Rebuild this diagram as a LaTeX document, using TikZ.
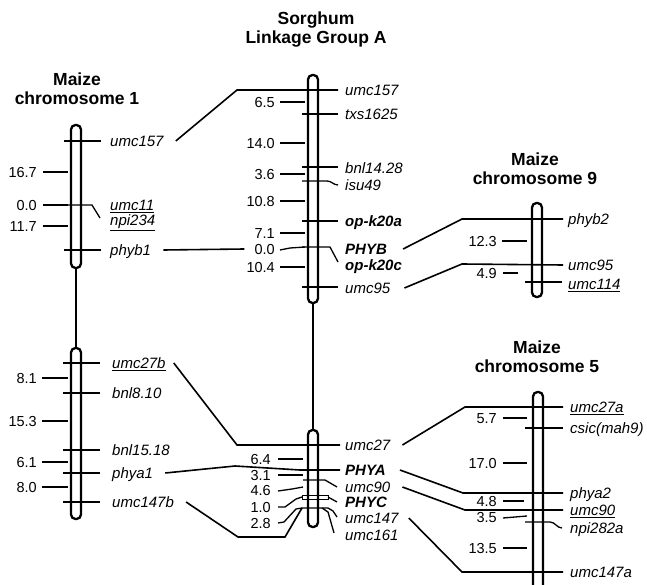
\documentclass[tikz,border=0pt]{standalone}
\usepackage{fontspec}
\setmainfont{Liberation Sans}
\usepackage{tikz}
\usetikzlibrary{positioning, calc}
\tikzset{
    chrom/.style = {draw, line width=2.3pt, rounded corners=4.5pt, fill=white},
    centro/.style = {line width=2.2pt},
    tick/.style = {line width=1.3pt},
    link/.style = {line width=1.6pt},
    title/.style = {font=\bfseries\fontsize{17.5}{19}\selectfont, align=center},
    marker/.style = {font=\itshape\fontsize{15}{17}\selectfont, anchor=west, inner sep=0pt, text height=10.7pt, text depth=0pt},
    bmarker/.style = {marker, font=\bfseries\itshape\fontsize{15}{17}\selectfont},
    dist/.style = {font=\fontsize{14.5}{16}\selectfont, anchor=east, inner sep=0pt, text height=10.4pt, text depth=0pt}
}
\begin{document}
\begin{tikzpicture}[x=1pt, y=-1pt]
\useasboundingbox (0,0) rectangle (647,585);

% ---- Titles ----
\node[title] (t-c1) at (77,89) {Maize\\chromosome 1};
\node[title] (t-sg) at (316,30) {Sorghum\\Linkage Group A};
\node[title] (t-c9) at (535,169) {Maize\\chromosome 9};
\node[title] (t-c5) at (537,357) {Maize\\chromosome 5};

% ---- Bars ----
\draw[centro] (76,266) -- (76,350);
\draw[centro] (313,300) -- (313,432);
\draw[chrom] (71,125) rectangle (81,268);
\draw[chrom] (71,348) rectangle (81,519);
\draw[chrom] (308,75) rectangle (318,303);
\draw[chrom] (308,430) rectangle (318,527);
\draw[chrom] (532,203) rectangle (542,297);
\draw[chrom] (533,600) -- (533,392) -- (543,392) -- (543,600);

% ---- Maize chromosome 1 (left) ----
\node[marker] (c1-umc157) at (110,141) {umc157};
\node[marker] (c1-umc11) at (110,205) {\underline{umc11}};
\node[marker] (c1-npi234) at (110,220) {\underline{npi234}};
\node[marker] (c1-phyb1) at (110,250) {phyb1};
\node[marker] (c1-umc27b) at (112,363) {\underline{umc27b}};
\node[marker] (c1-bnl810) at (112,393) {bnl8.10};
\node[marker] (c1-bnl1518) at (112,450) {bnl15.18};
\node[marker] (c1-phya1) at (112,473) {phya1};
\node[marker] (c1-umc147b) at (112,502) {umc147b};
\node[dist] (c1-d1) at (37,172) {16.7};
\node[dist] (c1-d2) at (37,205) {0.0};
\node[dist] (c1-d3) at (37,226) {11.7};
\node[dist] (c1-d4) at (37,378) {8.1};
\node[dist] (c1-d5) at (37,421) {15.3};
\node[dist] (c1-d6) at (37,462) {6.1};
\node[dist] (c1-d7) at (37,487) {8.0};
\draw[tick] (64,141) -- (101,141);
\draw[tick] (64,205) -- (92,205) -- (100,218);
\draw[tick] (64,250) -- (101,250);
\draw[tick] (63,363) -- (100,363);
\draw[tick] (63,393) -- (100,393);
\draw[tick] (63,450) -- (100,450);
\draw[tick] (63,473) -- (100,473);
\draw[tick] (63,502) -- (100,502);
\draw[tick] (43,172) -- (68,172);
\draw[tick] (43,205) -- (68,205);
\draw[tick] (43,226) -- (68,226);
\draw[tick] (42,378) -- (68,378);
\draw[tick] (42,421) -- (68,421);
\draw[tick] (42,462) -- (68,462);
\draw[tick] (42,487) -- (68,487);

% ---- Sorghum linkage group A (centre) ----
\node[marker] (sg-umc157) at (345,90) {umc157};
\node[marker] (sg-txs1625) at (345,114) {txs1625};
\node[marker] (sg-bnl1428) at (345,168) {bnl14.28};
\node[marker] (sg-isu49) at (345,185) {isu49};
\node[bmarker] (sg-opk20a) at (345,221) {op-k20a};
\node[bmarker] (sg-phyb) at (345,249) {PHYB};
\node[bmarker] (sg-opk20c) at (345,265) {op-k20c};
\node[marker] (sg-umc95) at (345,288) {umc95};
\node[marker] (sg-umc27) at (345,445) {umc27};
\node[bmarker] (sg-phya) at (345,470) {PHYA};
\node[marker] (sg-umc90) at (345,487) {umc90};
\node[bmarker] (sg-phyc) at (345,502) {PHYC};
\node[marker] (sg-umc147) at (345,518) {umc147};
\node[marker] (sg-umc161) at (345,535) {umc161};
\node[dist] (sg-d1) at (275,102) {6.5};
\node[dist] (sg-d2) at (275,143) {14.0};
\node[dist] (sg-d3) at (275,174) {3.6};
\node[dist] (sg-d4) at (275,201) {10.8};
\node[dist] (sg-d5) at (275,233) {7.1};
\node[dist] (sg-d6) at (275,249) {0.0};
\node[dist] (sg-d7) at (275,267) {10.4};
\node[dist] (sg-d8) at (271,459) {6.4};
\node[dist] (sg-d9) at (271,475) {3.1};
\node[dist] (sg-d10) at (271,490) {4.6};
\node[dist] (sg-d11) at (271,507) {1.0};
\node[dist] (sg-d12) at (271,523) {2.8};
\draw[tick] (302,114) -- (338,114);
\draw[tick] (302,167) -- (338,167);
\draw[tick] (302,181) -- (327,181) to[out=0, in=180] (338,185);
\draw[tick] (302,221) -- (338,221);
\draw[tick] (302,247) -- (330,247) -- (338,262);
\draw[tick] (302,287) -- (338,287);
\draw[tick] (280,102) -- (305,102);
\draw[tick] (280,143) -- (305,143);
\draw[tick] (280,174) -- (305,174);
\draw[tick] (280,201) -- (305,201);
\draw[tick] (280,233) -- (305,233);
\draw[tick] (280,250) -- (290,248) -- (305,247);
\draw[tick] (280,267) -- (305,267);
\draw[tick] (278,459) -- (303,459);
\draw[tick] (278,475) -- (303,475);
\draw[tick] (303,480) -- (325,480) -- (337,487);
\draw[tick] (278,491) -- (292,489) -- (303,487);
\draw[line width=0.8pt] (302,495.5) rectangle (328,499);
\draw[tick] (328,497) -- (337,502);
\draw[tick] (278,507) -- (285,507) -- (296,499) -- (302,497);
\draw[tick] (278,523) -- (284,522) -- (296,509) -- (302,508);
\draw[tick] (302,508) -- (328,508) -- (333,511) -- (337,517);
\draw[tick] (322,508) -- (328,512) -- (334,533);

% ---- Maize chromosome 9 (top-right) ----
\node[marker] (c9-phyb2) at (568,219) {phyb2};
\node[marker] (c9-umc95) at (568,265) {umc95};
\node[marker] (c9-umc114) at (568,284) {\underline{umc114}};
\node[dist] (c9-d1) at (497,241) {12.3};
\node[dist] (c9-d2) at (497,273) {4.9};
\draw[tick] (525,282) -- (562,282);
\draw[tick] (502,241) -- (527,241);
\draw[tick] (503,273) -- (518,273);

% ---- Maize chromosome 5 (bottom-right) ----
\node[marker] (c5-umc27a) at (570,407) {\underline{umc27a}};
\node[marker] (c5-csic) at (570,428) {csic(mah9)};
\node[marker] (c5-phya2) at (570,493) {phya2};
\node[marker] (c5-umc90) at (570,510) {\underline{umc90}};
\node[marker] (c5-npi282a) at (570,528) {npi282a};
\node[marker] (c5-umc147a) at (570,572) {umc147a};
\node[dist] (c5-d1) at (497,418) {5.7};
\node[dist] (c5-d2) at (497,463) {17.0};
\node[dist] (c5-d3) at (497,501) {4.8};
\node[dist] (c5-d4) at (497,517) {3.5};
\node[dist] (c5-d5) at (497,548) {13.5};
\draw[tick] (525,428) -- (563,428);
\draw[tick] (525,522) -- (550,522) to[out=0, in=180] (562,528);
\draw[tick] (503,418) -- (527,418);
\draw[tick] (503,463) -- (527,463);
\draw[tick] (503,501) -- (524,501);
\draw[tick] (503,518) -- (527,516);
\draw[tick] (503,548) -- (527,548);

% ---- Connectors ----
\draw[link] ([xshift=12pt]c1-umc157.east) -- (237,90) -- ([xshift=-7pt]sg-umc157.west);
\draw[link] ([xshift=12pt]c1-phyb1.east) -- ([xshift=-10pt]sg-d6.west);
\draw[link] ([xshift=8pt]c1-umc27b.east) -- (237,445) -- ([xshift=-5pt]sg-umc27.west);
\draw[link] ([xshift=12pt]c1-phya1.east) -- (235,466) -- (300,470) -- ([xshift=-5pt]sg-phya.west);
\draw[link] ([xshift=12pt]c1-umc147b.east) -- (238,537) -- (285,537) -- (302,508);
\draw[link] ([xshift=16pt]sg-phyb.east) -- (462,219) -- ([xshift=-5pt]c9-phyb2.west);
\draw[link] ([xshift=14pt]sg-umc95.east) -- (462,264) -- ([xshift=-5pt]c9-umc95.west);
\draw[link] ([xshift=12pt]sg-umc27.east) -- (465,407) -- ([xshift=-7pt]c5-umc27a.west);
\draw[link] ([xshift=14pt]sg-phya.east) -- (463,493) -- ([xshift=-7pt]c5-phya2.west);
\draw[link] ([xshift=12pt]sg-umc90.east) -- (465,510) -- ([xshift=-7pt]c5-umc90.west);
\draw[link] ([xshift=10pt]sg-umc147.east) -- (462,572) -- ([xshift=-7pt]c5-umc147a.west);

\end{tikzpicture}
\end{document}
